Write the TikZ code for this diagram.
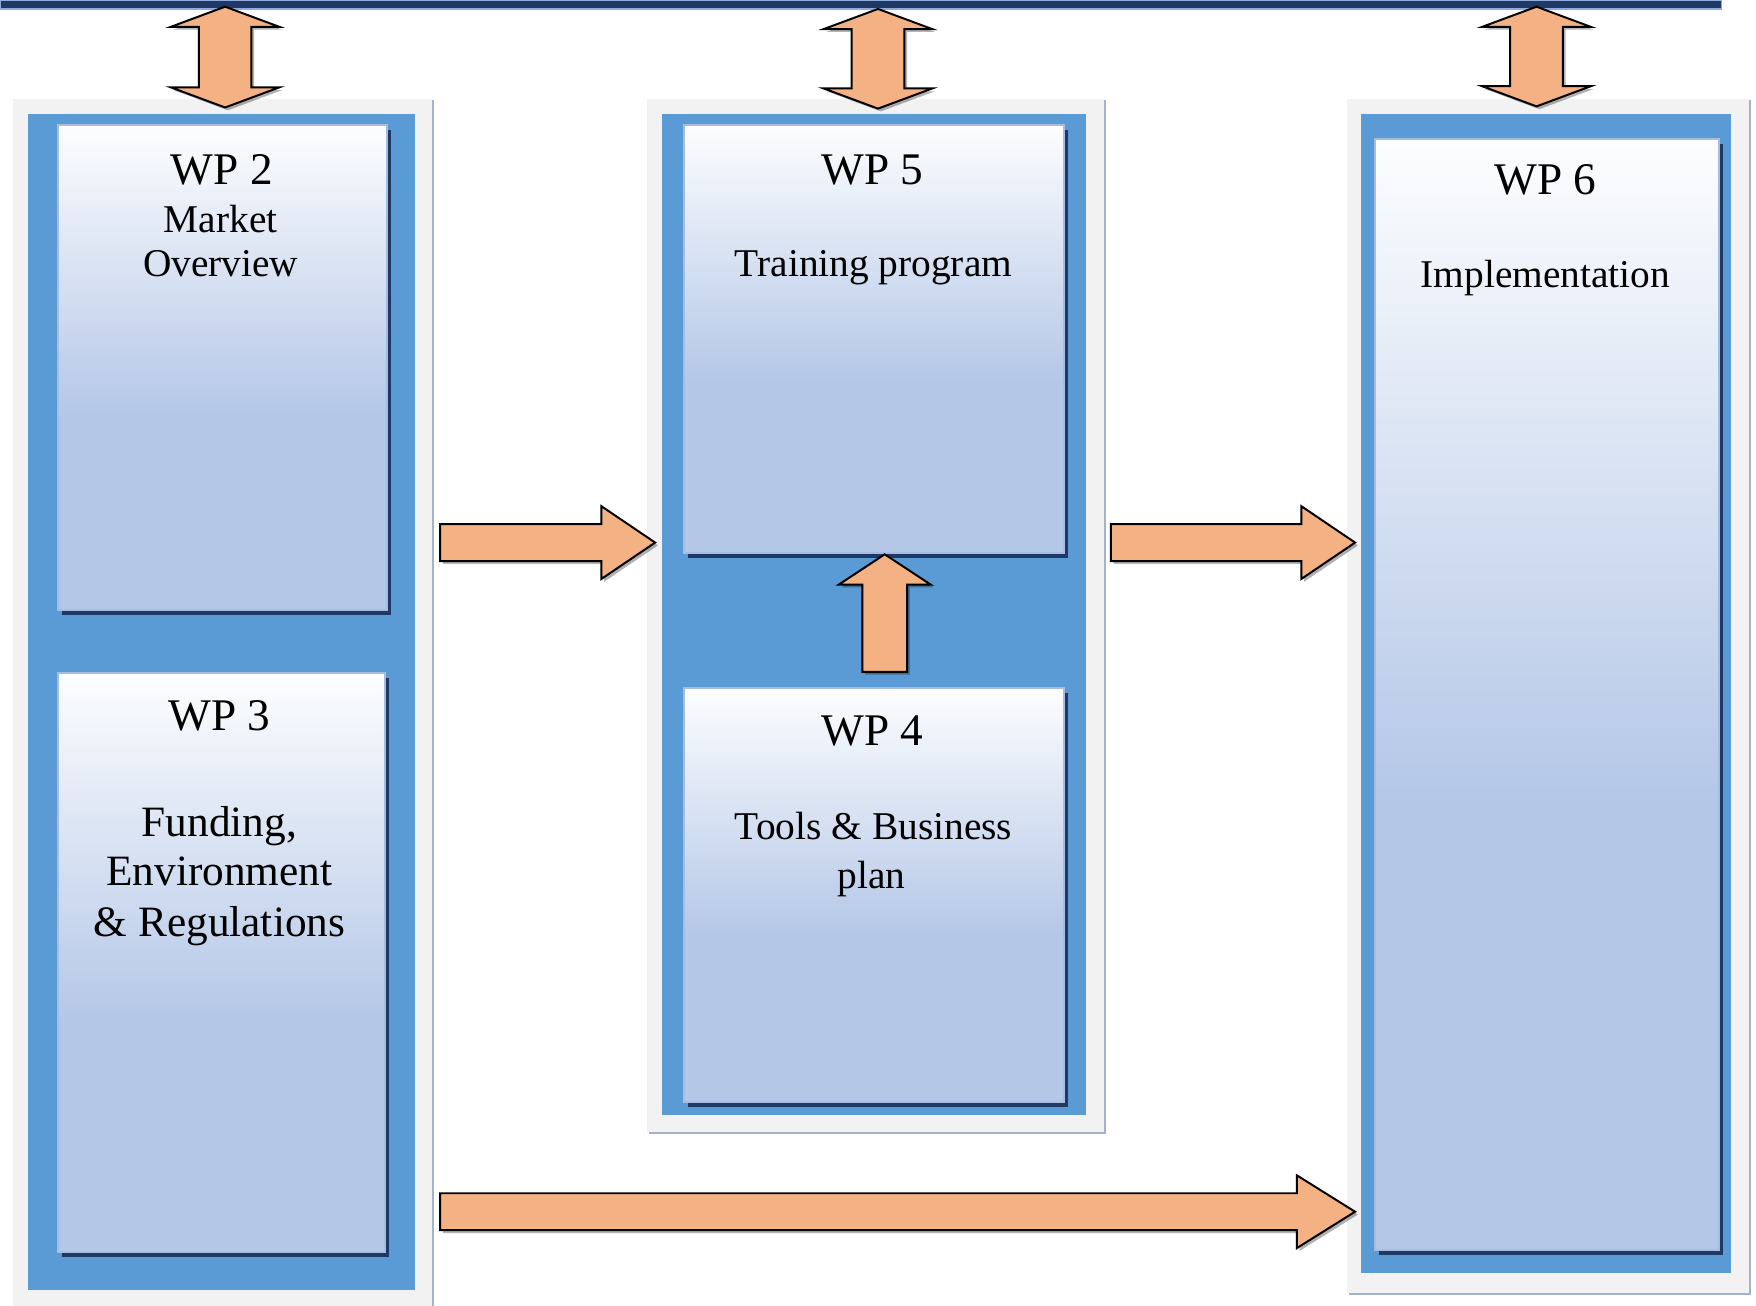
\documentclass[tikz,border=0pt]{standalone}
\usepackage{fontspec}
\setmainfont{Liberation Serif}
\usetikzlibrary{calc,shadows,positioning}

\definecolor{navy}{HTML}{203864}
\definecolor{baredge}{HTML}{8FAADC}
\definecolor{panelblue}{HTML}{5B9BD5}
\definecolor{panelgray}{HTML}{F2F2F2}
\definecolor{grayshadow}{HTML}{A3B3C8}
\definecolor{boxblue}{HTML}{B4C7E7}
\definecolor{boxedge}{HTML}{A5BCE3}
\definecolor{arroworange}{HTML}{F4B183}
\colorlet{boxtop}{white!97!boxblue}

\pgfdeclareverticalshading{wpshade}{100bp}{color(0bp)=(boxblue); color(25bp)=(boxblue); color(45bp)=(boxblue); color(75bp)=(boxtop); color(100bp)=(boxtop)}

\tikzset{
  topbar/.style={rectangle, inner sep=0pt, outer sep=0pt, anchor=north west, fill=navy, draw=baredge, line width=0.3pt},
  graypanel/.style={rectangle, inner sep=0pt, outer sep=0pt, anchor=north west, fill=panelgray,
    drop shadow={shadow xshift=0.15mm, shadow yshift=-0.15mm, fill=grayshadow, opacity=1}},
  bluepanel/.style={rectangle, inner sep=0pt, outer sep=0pt, anchor=north west, fill=panelblue},
  wpbox/.style={rectangle, inner sep=0pt, outer sep=0pt, anchor=north west, shade, shading=wpshade,
    draw=boxedge, line width=0.5pt,
    drop shadow={shadow xshift=0.35mm, shadow yshift=-0.45mm, fill=navy, opacity=1}},
  wpid/.style={anchor=base, inner sep=0pt, font=\fontsize{11.5}{13}\selectfont},
  wptext/.style={anchor=base, inner sep=0pt, font=\fontsize{10}{12}\selectfont},
  fundtext/.style={anchor=base, inner sep=0pt, font=\fontsize{11}{13}\selectfont},
  wparrow/.style={fill=arroworange, draw=black, line width=0.5pt, line join=miter,
    drop shadow={shadow xshift=0.25mm, shadow yshift=-0.25mm, fill=black, opacity=0.3}}
}

% block arrow: shaft half width, head half width, head length, from, to
\newcommand{\fatarrow}[5]{%
  \path (#4) coordinate (fa-s);
  \path (#5) coordinate (fa-e);
  \path ($(fa-e)!#3!(fa-s)$) coordinate (fa-h);
  \draw[wparrow] ($(fa-s)!#1!90:(fa-e)$) -- ($(fa-h)!#1!-90:(fa-s)$) -- ($(fa-h)!#2!-90:(fa-s)$)
    -- (fa-e) -- ($(fa-h)!#2!90:(fa-s)$) -- ($(fa-h)!#1!90:(fa-s)$) -- ($(fa-s)!#1!-90:(fa-e)$) -- cycle;
}
% block arrow with two heads
\newcommand{\dblarrow}[5]{%
  \path (#4) coordinate (da-s);
  \path (#5) coordinate (da-e);
  \path ($(da-s)!#3!(da-e)$) coordinate (da-hs);
  \path ($(da-e)!#3!(da-s)$) coordinate (da-he);
  \draw[wparrow] (da-s) -- ($(da-hs)!#2!90:(da-e)$) -- ($(da-hs)!#1!90:(da-e)$)
    -- ($(da-he)!#1!-90:(da-s)$) -- ($(da-he)!#2!-90:(da-s)$) -- (da-e)
    -- ($(da-he)!#2!90:(da-s)$) -- ($(da-he)!#1!90:(da-s)$)
    -- ($(da-hs)!#1!-90:(da-e)$) -- ($(da-hs)!#2!-90:(da-e)$) -- cycle;
}

\begin{document}
\begin{tikzpicture}[x=0.1mm, y=-0.1mm]
  \useasboundingbox (0,0) rectangle (1568,1166);

  % Top bar
  \node[topbar, minimum width=153.7mm, minimum height=0.8mm] (bar) at (0,0) {};

  % Panels
  \node[graypanel, minimum width=37.4mm, minimum height=107.8mm] (g1) at (12,88) {};
  \node[graypanel, minimum width=40.8mm, minimum height=92.3mm] (g2) at (578,88) {};
  \node[graypanel, minimum width=35.9mm, minimum height=106.7mm] (g3) at (1203,88) {};

  \node[bluepanel, minimum width=34.6mm, minimum height=105.0mm] (b1) at (25,102) {};
  \node[bluepanel, minimum width=37.9mm, minimum height=89.4mm] (b2) at (591,102) {};
  \node[bluepanel, minimum width=33.1mm, minimum height=103.5mm] (b3) at (1215,102) {};

  % Work packages
  \node[wpbox, minimum width=29.4mm, minimum height=43.3mm] (wp2) at (52,112) {};
  \node[wpbox, minimum width=29.2mm, minimum height=51.7mm] (wp3) at (52,601) {};
  \node[wpbox, minimum width=33.9mm, minimum height=38.2mm] (wp5) at (611,112) {};
  \node[wpbox, minimum width=33.9mm, minimum height=37.0mm] (wp4) at (611,614) {};
  \node[wpbox, minimum width=30.7mm, minimum height=99.2mm] (wp6) at (1228,124) {};

  % Arrows to the top bar
  \dblarrow{2.35mm}{4.85mm}{1.8mm}{201,6}{201,96}
  \dblarrow{2.35mm}{4.85mm}{1.8mm}{784,8}{784,97}
  \dblarrow{2.35mm}{4.85mm}{1.8mm}{1372,6}{1372,95}

  % Flow arrows
  \fatarrow{1.65mm}{3.25mm}{4.8mm}{393,484.5}{585,484.5}
  \fatarrow{1.65mm}{3.25mm}{4.8mm}{992,484.5}{1210,484.5}
  \fatarrow{1.65mm}{3.25mm}{5.2mm}{393,1082}{1210,1082}
  \fatarrow{2.0mm}{4.1mm}{2.7mm}{790,600}{790,495}

  % Texts
  \node[wpid] (wp2-id) at (198,164.5) {WP 2};
  \node[wptext] (wp2-l1) at (197,208) {Market};
  \node[wptext] (wp2-l2) at (197,247) {Overview};

  \node[wpid] (wp3-id) at (196,652) {WP 3};
  \node[fundtext] (wp3-l1) at (196,747) {Funding,};
  \node[fundtext] (wp3-l2) at (196,791) {Environment};
  \node[fundtext] (wp3-l3) at (196,836) {\& Regulations};

  \node[wpid] (wp5-id) at (779,164.5) {WP 5};
  \node[wptext] (wp5-l1) at (780,247) {Training program};

  \node[wpid] (wp4-id) at (779,666) {WP 4};
  \node[wptext] (wp4-l1) at (780,750) {Tools \& Business};
  \node[wptext] (wp4-l2) at (778,793) {plan};

  \node[wpid] (wp6-id) at (1380,174) {WP 6};
  \node[wptext] (wp6-l1) at (1380,257) {Implementation};
\end{tikzpicture}
\end{document}
